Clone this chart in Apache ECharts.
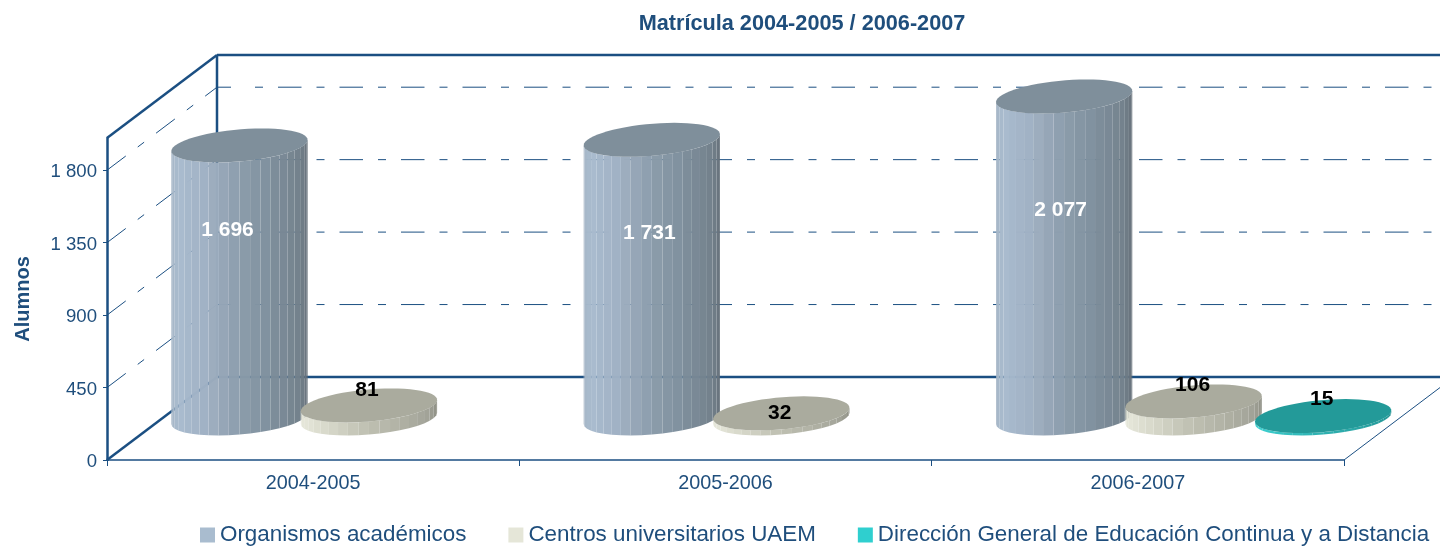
<!DOCTYPE html>
<html>
<head>
<meta charset="utf-8">
<title>Matrícula 2004-2005 / 2006-2007</title>
<script src="https://cdn.jsdelivr.net/npm/echarts@6/dist/echarts.min.js"></script>
<style>
html, body { margin: 0; padding: 0; background: #fff; }
#chart { width: 1440px; height: 546px; }
</style>
</head>
<body>
<div id="chart"></div>
<script>
var categories = ['2004-2005', '2005-2006', '2006-2007'];
var organismos = [1696, 1731, 2077];
var centros = [81, 32, 106];
var direccion = [null, null, 15];
var yTicks = [0, 450, 900, 1350, 1800];
var yMax = 2000;

var seriesNames = ['Organismos académicos', 'Centros universitarios UAEM', 'Dirección General de Educación Continua y a Distancia'];

// colores de cada serie: leyenda, tapa, y degradado del cuerpo de izquierda a derecha
var legendColors = ['#a9bccf', '#e5e6d8', '#2fcfcf'];
var topColors = ['#7f8f9b', '#aaab9e', '#239a99'];
var bodyStops = [
    ['#a4b4c4', '#a8bacd', '#a0b1c3', '#8a9bab', '#7b8c99', '#727f8a', '#5f6a73'],
    ['#e8e9db', '#e2e3d5', '#d2d3c5', '#bdbeb0', '#aeafa2', '#a0a195', '#85867b'],
    ['#3fd4d4', '#38cccc', '#32bdbd', '#2cb0b0', '#27a4a4', '#229898', '#1e8a8a']
];

// corrimiento de cada etiqueta respecto a la tapa, puesto a mano como en el original
var labelShift = [
    [[-12, 85], [-2.5, 93], [-3.5, 113.5]],
    [[-2, -15], [-1.5, 0], [-1, -16]],
    [null, null, [-1.5, -16.5]]
];

var DEPTH_X = 110;
var DEPTH_Y = -83;
var RADIUS = 64.3;
var TILT_X = 22.5;
var TILT_Y = 17;
var SERIES_STEP = 129.5;
var BAR_NUDGE = 0.8;
var FRAME_COLOR = '#1b4f82';
var TEXT_COLOR = '#1f4e7c';
var FONT = '"Liberation Sans", Arial, sans-serif';

function formatNumber(v) {
    return String(v).replace(/\B(?=(\d{3})+$)/g, ' ');
}

function pointOn(cx, cy, t) {
    return [cx + RADIUS * Math.cos(t) + TILT_X * Math.sin(t), cy - TILT_Y * Math.sin(t)];
}

function renderFrame(params, api) {
    var sys = params.coordSys;
    var left = sys.x, right = sys.x + sys.width;
    var top = sys.y, bottom = sys.y + sys.height;
    var children = [];
    function line(x1, y1, x2, y2, width, dash) {
        children.push({
            type: 'line',
            shape: {x1: x1, y1: y1, x2: x2, y2: y2},
            style: {stroke: FRAME_COLOR, lineWidth: width, lineDash: dash || null}
        });
    }
    line(left + DEPTH_X, top + DEPTH_Y, right + DEPTH_X, top + DEPTH_Y, 2.5);
    line(left + DEPTH_X, top + DEPTH_Y, left + DEPTH_X, bottom + DEPTH_Y, 2.5);
    line(left + DEPTH_X, bottom + DEPTH_Y, right + DEPTH_X, bottom + DEPTH_Y, 2.5);
    line(left, top, left + DEPTH_X, top + DEPTH_Y, 2.5);
    line(left, bottom, left + DEPTH_X, bottom + DEPTH_Y, 2.5);
    line(right, bottom, right + DEPTH_X, bottom + DEPTH_Y, 1);
    for (var i = 1; i < yTicks.length; i++) {
        var y = api.coord([0, yTicks[i]])[1];
        line(left, y, left + DEPTH_X, y + DEPTH_Y, 1, [23.5, 15, 8, 15]);
        line(left + DEPTH_X, y + DEPTH_Y, left + DEPTH_X + 14, y + DEPTH_Y, 1);
        line(left + DEPTH_X + 38, y + DEPTH_Y, right + DEPTH_X, y + DEPTH_Y, 1, [8, 15, 23.5, 15]);
    }
    return {type: 'group', children: children};
}

function makeRenderBar(seriesIndex) {
    return function (params, api) {
        var cat = api.value(0);
        var value = api.value(1);
        // la barra se corta en el maximo del eje, como en el original
        var topPoint = api.coord([cat, Math.min(value, yMax)]);
        var basePoint = api.coord([cat, 0]);
        var cx = topPoint[0] + (seriesIndex - 1) * SERIES_STEP + DEPTH_X / 2 + BAR_NUDGE;
        var topY = topPoint[1] + DEPTH_Y / 2;
        var baseY = basePoint[1] + DEPTH_Y / 2;
        var t0 = Math.atan2(TILT_X, RADIUS);
        var facets = 20;
        var children = [];
        for (var i = 0; i < facets; i++) {
            var a = t0 - Math.PI * i / facets;
            var b = t0 - Math.PI * (i + 1) / facets;
            var p1 = pointOn(cx, topY, a), p2 = pointOn(cx, topY, b);
            var p3 = pointOn(cx, baseY, b), p4 = pointOn(cx, baseY, a);
            var u = 1 - (i + 0.5) / facets;
            children.push({
                type: 'polygon',
                shape: {points: [p1, p2, p3, p4]},
                style: {fill: echarts.color.lerp(u, bodyStops[seriesIndex]), opacity: 0.985}
            });
        }
        var ring = [];
        for (var j = 0; j < 60; j++) {
            ring.push(pointOn(cx, topY, Math.PI * 2 * j / 60));
        }
        children.push({
            type: 'polygon',
            shape: {points: ring},
            style: {fill: topColors[seriesIndex]}
        });
        var shift = labelShift[seriesIndex][cat];
        children.push({
            type: 'text',
            z2: 10,
            style: {
                text: formatNumber(value),
                x: cx + shift[0],
                y: topY + shift[1],
                align: 'center',
                verticalAlign: 'middle',
                fill: seriesIndex == 0 ? '#ffffff' : '#000000',
                font: 'bold 21px ' + FONT
            }
        });
        return {type: 'group', children: children};
    };
}

function toPairs(values) {
    var pairs = [];
    for (var i = 0; i < values.length; i++) {
        if (values[i] !== null) {
            pairs.push([i, values[i]]);
        }
    }
    return pairs;
}

var seriesValues = [organismos, centros, direccion];
var seriesList = [{
    type: 'custom',
    silent: true,
    renderItem: renderFrame,
    encode: {x: 0, y: 1},
    data: [[0, 0]]
}];
for (var s = 0; s < seriesValues.length; s++) {
    seriesList.push({
        name: seriesNames[s],
        type: 'custom',
        renderItem: makeRenderBar(s),
        encode: {x: 0, y: 1},
        itemStyle: {color: legendColors[s]},
        data: toPairs(seriesValues[s])
    });
}

var option = {
    animation: false,
    backgroundColor: '#ffffff',
    title: {
        text: 'Matrícula 2004-2005 / 2006-2007',
        left: 797,
        top: 8,
        textAlign: 'center',
        textStyle: {color: TEXT_COLOR, fontFamily: FONT, fontWeight: 'bold', fontSize: 21.7}
    },
    legend: {
        left: 195,
        top: 519,
        icon: 'rect',
        itemWidth: 15,
        itemHeight: 15,
        itemGap: 42,
        data: seriesNames,
        textStyle: {color: TEXT_COLOR, fontFamily: FONT, fontSize: 22.4}
    },
    grid: {left: 107, right: 96, top: 138, bottom: 86, outerBoundsMode: 'none'},
    xAxis: {
        type: 'category',
        data: categories,
        axisLine: {lineStyle: {color: FRAME_COLOR, width: 1.5}},
        axisTick: {show: true, length: 6, lineStyle: {color: FRAME_COLOR}},
        axisLabel: {color: TEXT_COLOR, fontFamily: FONT, fontSize: 19.8, margin: 14}
    },
    yAxis: {
        type: 'value',
        min: 0,
        max: yMax,
        name: 'Alumnos',
        nameLocation: 'middle',
        nameGap: 74,
        nameRotate: 90,
        nameTextStyle: {color: TEXT_COLOR, fontFamily: FONT, fontWeight: 'bold', fontSize: 20},
        splitLine: {show: false},
        axisLine: {show: true, lineStyle: {color: FRAME_COLOR, width: 2.5}},
        axisTick: {show: true, length: 4, customValues: yTicks, lineStyle: {color: FRAME_COLOR}},
        axisLabel: {
            margin: 10,
            customValues: yTicks,
            formatter: function (v) {
                return '{tick|' + formatNumber(v) + '}';
            },
            rich: {
                tick: {
                    color: TEXT_COLOR,
                    fontFamily: FONT,
                    fontSize: 18.6,
                    padding: [4, 0, 0, 0]
                }
            }
        }
    },
    series: seriesList
};

var myChart = echarts.init(document.getElementById('chart'));
myChart.setOption(option);
</script>
</body>
</html>
